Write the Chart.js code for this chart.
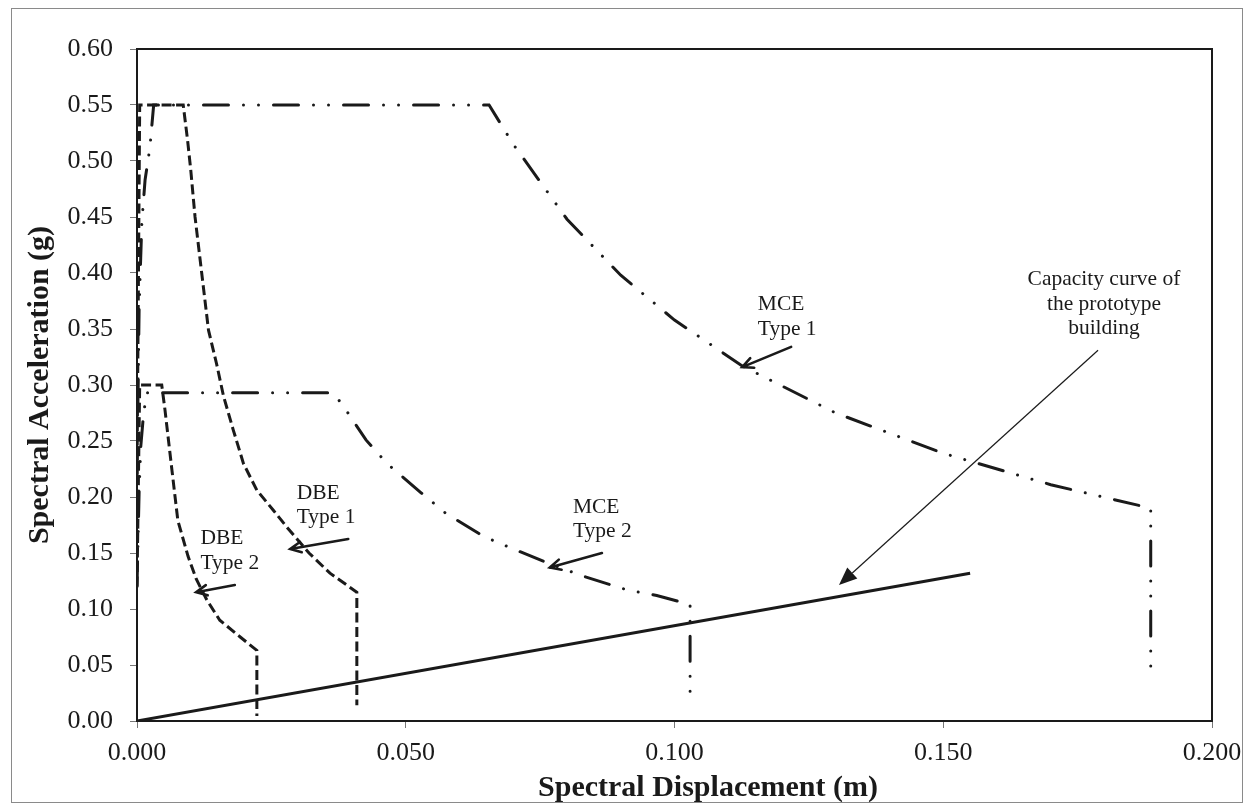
<!DOCTYPE html>
<html>
<head>
<meta charset="utf-8">
<script src="https://cdn.jsdelivr.net/npm/chart.js@4.4.1/dist/chart.umd.min.js"></script>
<style>
  html, body { margin: 0; padding: 0; background: #fff; }
  #wrap { width: 1254px; height: 811px; }
</style>
</head>
<body>
<div id="wrap"><canvas id="chart" width="1254" height="811"></canvas></div>
<script>
// Spectral displacement (m) / spectral acceleration (g)
const dbe1X = [0, 0.0005, 0.0086, 0.0094, 0.0100, 0.0108, 0.0133, 0.0148, 0.0161, 0.0179, 0.0198, 0.0223, 0.0254, 0.0279, 0.0320, 0.0359, 0.0409, 0.0409];
const dbe1Y = [0.22, 0.55, 0.55, 0.519, 0.492, 0.450, 0.349, 0.319, 0.290, 0.260, 0.230, 0.206, 0.188, 0.173, 0.150, 0.132, 0.115, 0.014];

const dbe2X = [0, 0.0005, 0.0046, 0.0052, 0.0065, 0.0076, 0.0095, 0.0110, 0.0130, 0.0154, 0.0192, 0.0223, 0.0223];
const dbe2Y = [0.12, 0.30, 0.30, 0.278, 0.224, 0.179, 0.147, 0.127, 0.108, 0.090, 0.075, 0.063, 0.0045];

const mce1X = [0, 0.0004, 0.0009, 0.0015, 0.0024, 0.0031, 0.0655, 0.0700, 0.0800, 0.0900, 0.1000, 0.1126, 0.1300, 0.1500, 0.1700, 0.1886, 0.1886];
const mce1Y = [0.22, 0.37, 0.445, 0.483, 0.512, 0.55, 0.55, 0.515, 0.448, 0.398, 0.358, 0.317, 0.275, 0.239, 0.211, 0.190, 0.045];

const mce2X = [0, 0.0004, 0.0007, 0.0012, 0.0018, 0.0363, 0.0380, 0.0426, 0.0465, 0.0528, 0.0573, 0.0644, 0.0698, 0.0770, 0.0832, 0.0912, 0.0967, 0.1029, 0.1029];
const mce2Y = [0.12, 0.206, 0.245, 0.273, 0.293, 0.293, 0.284, 0.251, 0.230, 0.204, 0.186, 0.165, 0.154, 0.140, 0.129, 0.117, 0.112, 0.104, 0.025];

const capX = [0, 0.155];
const capY = [0, 0.132];

const xTicks = [0, 0.05, 0.10, 0.15, 0.20];
const yTicks = [0, 0.05, 0.10, 0.15, 0.20, 0.25, 0.30, 0.35, 0.40, 0.45, 0.50, 0.55, 0.60];

const xTitle = 'Spectral Displacement (m)';
const yTitle = 'Spectral Acceleration (g)';

// labels and arrows, in data units
const notes = [
  { lines: ['Capacity curve of', 'the prototype', 'building'], x: 0.1799, y: 0.394, align: 'center' },
  { lines: ['MCE', 'Type 1'], x: 0.1155, y: 0.372, align: 'left' },
  { lines: ['MCE', 'Type 2'], x: 0.0811, y: 0.191, align: 'left' },
  { lines: ['DBE', 'Type 1'], x: 0.0297, y: 0.2036, align: 'left' },
  { lines: ['DBE', 'Type 2'], x: 0.0118, y: 0.163, align: 'left' }
];
const arrows = [
  { from: [0.1788, 0.331], to: [0.1306, 0.1214], kind: 'filled' },
  { from: [0.1217, 0.334], to: [0.1126, 0.316], kind: 'open' },
  { from: [0.0865, 0.150], to: [0.0768, 0.137], kind: 'open' },
  { from: [0.0393, 0.1625], to: [0.0285, 0.1536], kind: 'open' },
  { from: [0.0182, 0.1214], to: [0.0110, 0.1150], kind: 'open' }
];

const toPts = (xs, ys) => xs.map((x, i) => ({ x, y: ys[i] }));
const SERIF = "'Liberation Serif', 'Times New Roman', serif";
const INK = '#1a1a1a';
const dashed = [10, 4.5];
const dashDotDot = [25, 15, 0.01, 15, 0.01, 15];

function lineSet(label, xs, ys, dash, cap) {
  return {
    label, data: toPts(xs, ys), showLine: true, pointRadius: 0,
    borderColor: INK, borderWidth: 3, borderDash: dash, borderCapStyle: cap,
    tension: 0, fill: false
  };
}

const decor = {
  id: 'decor',
  beforeDraw(chart) {
    const ctx = chart.ctx;
    ctx.save();
    ctx.fillStyle = '#fff';
    ctx.fillRect(0, 0, chart.width, chart.height);
    ctx.strokeStyle = '#8a8a8a';
    ctx.lineWidth = 1;
    ctx.strokeRect(11.5, 8.5, 1231, 794);
    ctx.restore();
  },
  afterDatasetsDraw(chart) {
    const { ctx, chartArea: a, scales: { x, y } } = chart;
    ctx.save();
    ctx.strokeStyle = INK;
    ctx.lineWidth = 2;
    ctx.strokeRect(a.left, a.top, a.right - a.left, a.bottom - a.top);

    // axis titles
    ctx.fillStyle = INK;
    ctx.font = 'bold 30px ' + SERIF;
    ctx.textAlign = 'center';
    ctx.textBaseline = 'middle';
    ctx.fillText(xTitle, 708, 788);
    ctx.save();
    ctx.translate(40, (a.top + a.bottom) / 2);
    ctx.rotate(-Math.PI / 2);
    ctx.fillText(yTitle, 0, 0);
    ctx.restore();

    ctx.font = '21.5px ' + SERIF;
    notes.forEach(n => {
      ctx.textAlign = n.align;
      const px = x.getPixelForValue(n.x);
      const py = y.getPixelForValue(n.y);
      n.lines.forEach((t, i) => ctx.fillText(t, px, py + i * 24.5));
    });

    arrows.forEach(ar => {
      const x1 = x.getPixelForValue(ar.from[0]), y1 = y.getPixelForValue(ar.from[1]);
      const x2 = x.getPixelForValue(ar.to[0]), y2 = y.getPixelForValue(ar.to[1]);
      const ang = Math.atan2(y2 - y1, x2 - x1);
      ctx.beginPath();
      if (ar.kind === 'filled') {
        const hl = 18, hw = 7.5;
        const bx = x2 - hl * Math.cos(ang), by = y2 - hl * Math.sin(ang);
        ctx.lineWidth = 1.2;
        ctx.moveTo(x1, y1);
        ctx.lineTo(bx, by);
        ctx.stroke();
        ctx.beginPath();
        ctx.moveTo(x2, y2);
        ctx.lineTo(bx + hw * Math.sin(ang), by - hw * Math.cos(ang));
        ctx.lineTo(bx - hw * Math.sin(ang), by + hw * Math.cos(ang));
        ctx.closePath();
        ctx.fill();
      } else {
        const hl = 12, spread = 0.45;
        ctx.lineWidth = 2.6;
        ctx.lineCap = 'round';
        ctx.moveTo(x1, y1);
        ctx.lineTo(x2, y2);
        ctx.moveTo(x2 - hl * Math.cos(ang - spread), y2 - hl * Math.sin(ang - spread));
        ctx.lineTo(x2, y2);
        ctx.lineTo(x2 - hl * Math.cos(ang + spread), y2 - hl * Math.sin(ang + spread));
        ctx.stroke();
      }
    });
    ctx.restore();
  }
};

new Chart(document.getElementById('chart'), {
  type: 'scatter',
  data: {
    datasets: [
      lineSet('Capacity curve', capX, capY, [], 'butt'),
      lineSet('DBE Type 1', dbe1X, dbe1Y, dashed, 'butt'),
      lineSet('DBE Type 2', dbe2X, dbe2Y, dashed, 'butt'),
      lineSet('MCE Type 1', mce1X, mce1Y, dashDotDot, 'round'),
      lineSet('MCE Type 2', mce2X, mce2Y, dashDotDot, 'round')
    ]
  },
  options: {
    responsive: false,
    animation: false,
    layout: { padding: { left: 0, top: 49, right: 42, bottom: 0 } },
    plugins: { legend: { display: false }, tooltip: { enabled: false } },
    scales: {
      x: {
        type: 'linear', min: 0, max: 0.2,
        afterBuildTicks: s => { s.ticks = xTicks.map(v => ({ value: v })); },
        afterFit: s => { s.height = 90; },
        grid: { drawOnChartArea: false, drawTicks: true, tickLength: 7, tickColor: '#777' },
        border: { display: true, color: INK, width: 2 },
        ticks: { color: INK, font: { family: SERIF, size: 26 }, padding: 10, maxRotation: 0,
          callback: v => v.toFixed(3) }
      },
      y: {
        type: 'linear', min: 0, max: 0.6,
        afterBuildTicks: s => { s.ticks = yTicks.map(v => ({ value: v })); },
        afterFit: s => { s.width = 137; },
        grid: { drawOnChartArea: false, drawTicks: true, tickLength: 7, tickColor: '#777' },
        border: { display: true, color: INK, width: 2 },
        ticks: { color: INK, font: { family: SERIF, size: 26 }, padding: 17,
          callback: v => v.toFixed(2) }
      }
    }
  },
  plugins: [decor]
});
</script>
</body>
</html>
